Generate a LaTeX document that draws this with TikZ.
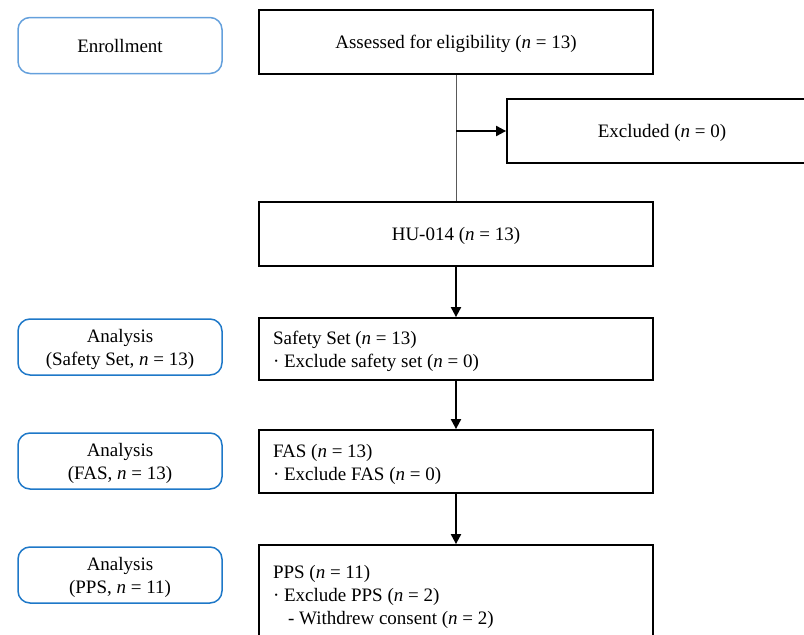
\documentclass[tikz,border=0pt]{standalone}
\usepackage{fontspec}
\setmainfont{Liberation Serif}
\usetikzlibrary{arrows.meta}
\definecolor{lightblue}{RGB}{100,160,220}
\definecolor{midblue}{RGB}{30,120,200}
\begin{document}
\begin{tikzpicture}[x=1pt,y=-1pt,
  font=\fontsize{19}{23}\selectfont,
  mainbox/.style={draw=black,line width=1.8pt,minimum width=394pt,inner sep=0pt,align=center,text depth=0pt},
  listbox/.style={draw=black,line width=1.8pt,text width=366pt,inner xsep=14pt,inner ysep=0pt,align=flush left},
  phase/.style={draw=#1,line width=1.5pt,rounded corners=12pt,minimum width=204pt,minimum height=56pt,inner sep=0pt,align=center,text depth=0pt},
  arr/.style={line width=2pt,-{Triangle[length=10pt,width=10pt]}}]
\useasboundingbox (0,0) rectangle (804,635);
\clip (0,0) rectangle (804,635);
\node[phase=lightblue] (enr) at (120,45.5) {Enrollment};
\node[mainbox,minimum height=64pt] (assess) at (456,42) {Assessed for eligibility (\textit{n} = 13)};
\node[mainbox,minimum width=310pt,minimum height=64pt] (excl) at (662,131) {Excluded (\textit{n} = 0)};
\node[mainbox,minimum height=64pt] (hu) at (456,234) {HU-014 (\textit{n} = 13)};
\node[listbox,minimum height=62pt,text depth=22pt] (safe) at (456,349) {Safety Set (\textit{n} = 13)\\· Exclude safety set (\textit{n} = 0)};
\node[phase=midblue] (asafe) at (120,347) {Analysis\\(Safety Set, \textit{n} = 13)};
\node[listbox,minimum height=63pt,text depth=22pt] (fas) at (456,461.5) {FAS (\textit{n} = 13)\\· Exclude FAS (\textit{n} = 0)};
\node[phase=midblue] (afas) at (120,461) {Analysis\\(FAS, \textit{n} = 13)};
\node[listbox,minimum height=98pt,text depth=45pt] (pps) at (456,594) {PPS (\textit{n} = 11)\\· Exclude PPS (\textit{n} = 2)\\\hspace*{15pt}- Withdrew consent (\textit{n} = 2)};
\node[phase=midblue] (apps) at (120,575) {Analysis\\(PPS, \textit{n} = 11)};
\coordinate (branch) at (assess.south |- excl.west);
\draw[gray!70!black,line width=1pt] (assess.south) -- (hu.north);
\draw[arr] (branch) -- (excl.west);
\draw[arr] (hu.south) -- (safe.north);
\draw[arr] (safe.south) -- (fas.north);
\draw[arr] (fas.south) -- (pps.north);
\end{tikzpicture}
\end{document}
